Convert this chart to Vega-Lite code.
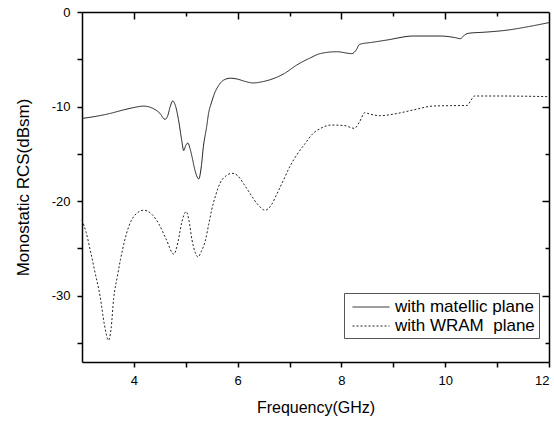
{
  "$schema": "https://vega.github.io/schema/vega-lite/v6.json",
  "width": 467,
  "height": 350,
  "autosize": "none",
  "padding": {"left": 82, "top": 12, "right": 5, "bottom": 59},
  "config": {
    "font": "Liberation Sans",
    "view": {"stroke": null},
    "axis": {"domain": true, "domainColor": "#000", "domainWidth": 1.5, "grid": false, "tickColor": "#000", "tickWidth": 1.5, "labelColor": "#000", "titleColor": "#000", "titleFontWeight": "normal", "labelFontSize": 13, "titleFontSize": 16}
  },
  "data": {
    "values": [
      {"f": 3.0, "v": -11.25, "s": "with matellic plane"},
      {"f": 3.3, "v": -11.0, "s": "with matellic plane"},
      {"f": 3.545, "v": -10.72, "s": "with matellic plane"},
      {"f": 3.8, "v": -10.35, "s": "with matellic plane"},
      {"f": 4.0, "v": -10.1, "s": "with matellic plane"},
      {"f": 4.19, "v": -9.95, "s": "with matellic plane"},
      {"f": 4.35, "v": -10.15, "s": "with matellic plane"},
      {"f": 4.5, "v": -10.7, "s": "with matellic plane"},
      {"f": 4.6, "v": -11.35, "s": "with matellic plane"},
      {"f": 4.65, "v": -11.0, "s": "with matellic plane"},
      {"f": 4.7, "v": -10.0, "s": "with matellic plane"},
      {"f": 4.75, "v": -9.4, "s": "with matellic plane"},
      {"f": 4.8, "v": -9.9, "s": "with matellic plane"},
      {"f": 4.86, "v": -11.4, "s": "with matellic plane"},
      {"f": 4.92, "v": -13.5, "s": "with matellic plane"},
      {"f": 4.96, "v": -14.65, "s": "with matellic plane"},
      {"f": 5.0, "v": -14.1, "s": "with matellic plane"},
      {"f": 5.04, "v": -13.85, "s": "with matellic plane"},
      {"f": 5.08, "v": -14.4, "s": "with matellic plane"},
      {"f": 5.12, "v": -15.3, "s": "with matellic plane"},
      {"f": 5.18, "v": -16.8, "s": "with matellic plane"},
      {"f": 5.25, "v": -17.65, "s": "with matellic plane"},
      {"f": 5.3, "v": -16.3, "s": "with matellic plane"},
      {"f": 5.34, "v": -14.2, "s": "with matellic plane"},
      {"f": 5.4, "v": -12.2, "s": "with matellic plane"},
      {"f": 5.44, "v": -10.7, "s": "with matellic plane"},
      {"f": 5.5, "v": -9.5, "s": "with matellic plane"},
      {"f": 5.54, "v": -8.8, "s": "with matellic plane"},
      {"f": 5.63, "v": -7.8, "s": "with matellic plane"},
      {"f": 5.73, "v": -7.2, "s": "with matellic plane"},
      {"f": 5.86, "v": -7.0, "s": "with matellic plane"},
      {"f": 6.0, "v": -7.1, "s": "with matellic plane"},
      {"f": 6.15, "v": -7.35, "s": "with matellic plane"},
      {"f": 6.3, "v": -7.5, "s": "with matellic plane"},
      {"f": 6.45, "v": -7.4, "s": "with matellic plane"},
      {"f": 6.63, "v": -7.15, "s": "with matellic plane"},
      {"f": 6.9, "v": -6.5, "s": "with matellic plane"},
      {"f": 7.14, "v": -5.6, "s": "with matellic plane"},
      {"f": 7.4, "v": -4.85, "s": "with matellic plane"},
      {"f": 7.59, "v": -4.4, "s": "with matellic plane"},
      {"f": 7.91, "v": -4.2, "s": "with matellic plane"},
      {"f": 8.2, "v": -4.4, "s": "with matellic plane"},
      {"f": 8.28, "v": -4.05, "s": "with matellic plane"},
      {"f": 8.35, "v": -3.42, "s": "with matellic plane"},
      {"f": 8.6, "v": -3.2, "s": "with matellic plane"},
      {"f": 8.88, "v": -2.96, "s": "with matellic plane"},
      {"f": 9.39, "v": -2.54, "s": "with matellic plane"},
      {"f": 9.9, "v": -2.54, "s": "with matellic plane"},
      {"f": 10.2, "v": -2.72, "s": "with matellic plane"},
      {"f": 10.29, "v": -2.82, "s": "with matellic plane"},
      {"f": 10.38, "v": -2.4, "s": "with matellic plane"},
      {"f": 10.45, "v": -2.25, "s": "with matellic plane"},
      {"f": 10.8, "v": -2.12, "s": "with matellic plane"},
      {"f": 11.19, "v": -1.92, "s": "with matellic plane"},
      {"f": 11.6, "v": -1.55, "s": "with matellic plane"},
      {"f": 12.0, "v": -1.12, "s": "with matellic plane"},
      {"f": 3.0, "v": -22.0, "s": "with WRAM\u00a0 plane"},
      {"f": 3.08, "v": -23.3, "s": "with WRAM\u00a0 plane"},
      {"f": 3.16, "v": -25.2, "s": "with WRAM\u00a0 plane"},
      {"f": 3.25, "v": -27.5, "s": "with WRAM\u00a0 plane"},
      {"f": 3.35, "v": -30.1, "s": "with WRAM\u00a0 plane"},
      {"f": 3.43, "v": -33.0, "s": "with WRAM\u00a0 plane"},
      {"f": 3.51, "v": -34.7, "s": "with WRAM\u00a0 plane"},
      {"f": 3.56, "v": -33.5, "s": "with WRAM\u00a0 plane"},
      {"f": 3.61, "v": -30.3, "s": "with WRAM\u00a0 plane"},
      {"f": 3.68, "v": -28.0, "s": "with WRAM\u00a0 plane"},
      {"f": 3.74, "v": -26.2, "s": "with WRAM\u00a0 plane"},
      {"f": 3.82, "v": -24.2, "s": "with WRAM\u00a0 plane"},
      {"f": 3.9, "v": -22.7, "s": "with WRAM\u00a0 plane"},
      {"f": 4.0, "v": -21.6, "s": "with WRAM\u00a0 plane"},
      {"f": 4.19, "v": -20.95, "s": "with WRAM\u00a0 plane"},
      {"f": 4.35, "v": -21.4, "s": "with WRAM\u00a0 plane"},
      {"f": 4.48, "v": -22.4, "s": "with WRAM\u00a0 plane"},
      {"f": 4.62, "v": -24.0, "s": "with WRAM\u00a0 plane"},
      {"f": 4.77, "v": -25.6, "s": "with WRAM\u00a0 plane"},
      {"f": 4.85, "v": -24.3, "s": "with WRAM\u00a0 plane"},
      {"f": 4.92, "v": -22.3, "s": "with WRAM\u00a0 plane"},
      {"f": 5.01, "v": -21.1, "s": "with WRAM\u00a0 plane"},
      {"f": 5.06, "v": -22.0, "s": "with WRAM\u00a0 plane"},
      {"f": 5.12, "v": -24.1, "s": "with WRAM\u00a0 plane"},
      {"f": 5.18, "v": -25.4, "s": "with WRAM\u00a0 plane"},
      {"f": 5.235, "v": -25.9, "s": "with WRAM\u00a0 plane"},
      {"f": 5.3, "v": -25.3, "s": "with WRAM\u00a0 plane"},
      {"f": 5.38, "v": -24.1, "s": "with WRAM\u00a0 plane"},
      {"f": 5.44, "v": -22.5, "s": "with WRAM\u00a0 plane"},
      {"f": 5.5, "v": -20.9, "s": "with WRAM\u00a0 plane"},
      {"f": 5.58, "v": -19.3, "s": "with WRAM\u00a0 plane"},
      {"f": 5.66, "v": -18.1, "s": "with WRAM\u00a0 plane"},
      {"f": 5.78, "v": -17.3, "s": "with WRAM\u00a0 plane"},
      {"f": 5.89, "v": -17.05, "s": "with WRAM\u00a0 plane"},
      {"f": 6.0, "v": -17.3, "s": "with WRAM\u00a0 plane"},
      {"f": 6.12, "v": -18.2, "s": "with WRAM\u00a0 plane"},
      {"f": 6.24, "v": -19.2, "s": "with WRAM\u00a0 plane"},
      {"f": 6.38, "v": -20.3, "s": "with WRAM\u00a0 plane"},
      {"f": 6.53, "v": -20.95, "s": "with WRAM\u00a0 plane"},
      {"f": 6.65, "v": -20.4, "s": "with WRAM\u00a0 plane"},
      {"f": 6.75, "v": -19.3, "s": "with WRAM\u00a0 plane"},
      {"f": 6.88, "v": -17.8, "s": "with WRAM\u00a0 plane"},
      {"f": 7.0, "v": -16.4, "s": "with WRAM\u00a0 plane"},
      {"f": 7.14, "v": -15.1, "s": "with WRAM\u00a0 plane"},
      {"f": 7.3, "v": -13.9, "s": "with WRAM\u00a0 plane"},
      {"f": 7.46, "v": -12.8, "s": "with WRAM\u00a0 plane"},
      {"f": 7.6, "v": -12.3, "s": "with WRAM\u00a0 plane"},
      {"f": 7.8, "v": -11.95, "s": "with WRAM\u00a0 plane"},
      {"f": 8.05, "v": -12.0, "s": "with WRAM\u00a0 plane"},
      {"f": 8.25, "v": -12.3, "s": "with WRAM\u00a0 plane"},
      {"f": 8.35, "v": -11.6, "s": "with WRAM\u00a0 plane"},
      {"f": 8.45, "v": -10.64, "s": "with WRAM\u00a0 plane"},
      {"f": 8.55, "v": -10.8, "s": "with WRAM\u00a0 plane"},
      {"f": 8.75, "v": -10.96, "s": "with WRAM\u00a0 plane"},
      {"f": 9.0, "v": -10.8, "s": "with WRAM\u00a0 plane"},
      {"f": 9.39, "v": -10.35, "s": "with WRAM\u00a0 plane"},
      {"f": 9.77, "v": -9.94, "s": "with WRAM\u00a0 plane"},
      {"f": 10.1, "v": -9.9, "s": "with WRAM\u00a0 plane"},
      {"f": 10.42, "v": -9.88, "s": "with WRAM\u00a0 plane"},
      {"f": 10.5, "v": -9.3, "s": "with WRAM\u00a0 plane"},
      {"f": 10.56, "v": -8.88, "s": "with WRAM\u00a0 plane"},
      {"f": 11.0, "v": -8.88, "s": "with WRAM\u00a0 plane"},
      {"f": 11.5, "v": -8.9, "s": "with WRAM\u00a0 plane"},
      {"f": 12.0, "v": -8.95, "s": "with WRAM\u00a0 plane"}
    ]
  },
  "layer": [
    {
      "mark": {"type": "line", "strokeWidth": 1, "color": "#222", "interpolate": "monotone"},
      "encoding": {
        "x": {"field": "f", "type": "quantitative", "scale": {"domain": [3, 12], "nice": false, "zero": false},
              "axis": {"orient": "bottom", "values": [4, 5, 6, 7, 8, 9, 10, 11, 12],
                       "tickSize": 5,
                       "labelExpr": "datum.value % 2 == 1 ? '' : datum.label",
                       "labelPadding": 7, "title": "Frequency(GHz)", "titlePadding": 12}},
        "y": {"field": "v", "type": "quantitative", "scale": {"domain": [-37, 0], "nice": false, "zero": false},
              "axis": {"orient": "left", "values": [0, -5, -10, -15, -20, -25, -30, -35],
                       "tickSize": 5,
                       "labelPadding": 7, "labelExpr": "datum.value % 10 != 0 ? '' : '' + datum.value",
                       "title": "Monostatic RCS(dBsm)", "titleFontSize": 17, "titlePadding": 19}},
        "strokeDash": {"field": "s", "type": "nominal",
                       "scale": {"domain": ["with matellic plane", "with WRAM\u00a0 plane"], "range": [[1, 0], [2, 2]]},
                       "legend": {"title": null, "orient": "none", "legendX": 262, "legendY": 281, "strokeColor": "#555", "padding": 4, "symbolType": "M-2,0H2", "symbolSize": 342, "symbolOffset": 13, "symbolStrokeWidth": 1, "symbolStrokeColor": "#222", "labelFontSize": 17, "labelFont": "Liberation Sans", "labelColor": "#000", "labelOffset": 14, "rowPadding": 1}}
      }
    },
    {
      "mark": {"type": "line", "strokeOpacity": 0},
      "encoding": {
        "x": {"field": "f", "type": "quantitative",
              "axis": {"orient": "top", "values": [4, 5, 6, 7, 8, 9, 10, 11],
                       "tickSize": {"condition": {"test": "datum.value % 2 == 1", "value": -4}, "value": -7},
                       "labels": false, "title": null}},
        "y": {"field": "v", "type": "quantitative",
              "axis": {"orient": "right", "values": [-5, -10, -15, -20, -25, -30, -35],
                       "tickSize": {"condition": {"test": "datum.value % 10 != 0", "value": -4}, "value": -7},
                       "labels": false, "title": null}},
        "detail": {"field": "s"}
      }
    }
  ],
  "resolve": {"axis": {"x": "independent", "y": "independent"}}
}
